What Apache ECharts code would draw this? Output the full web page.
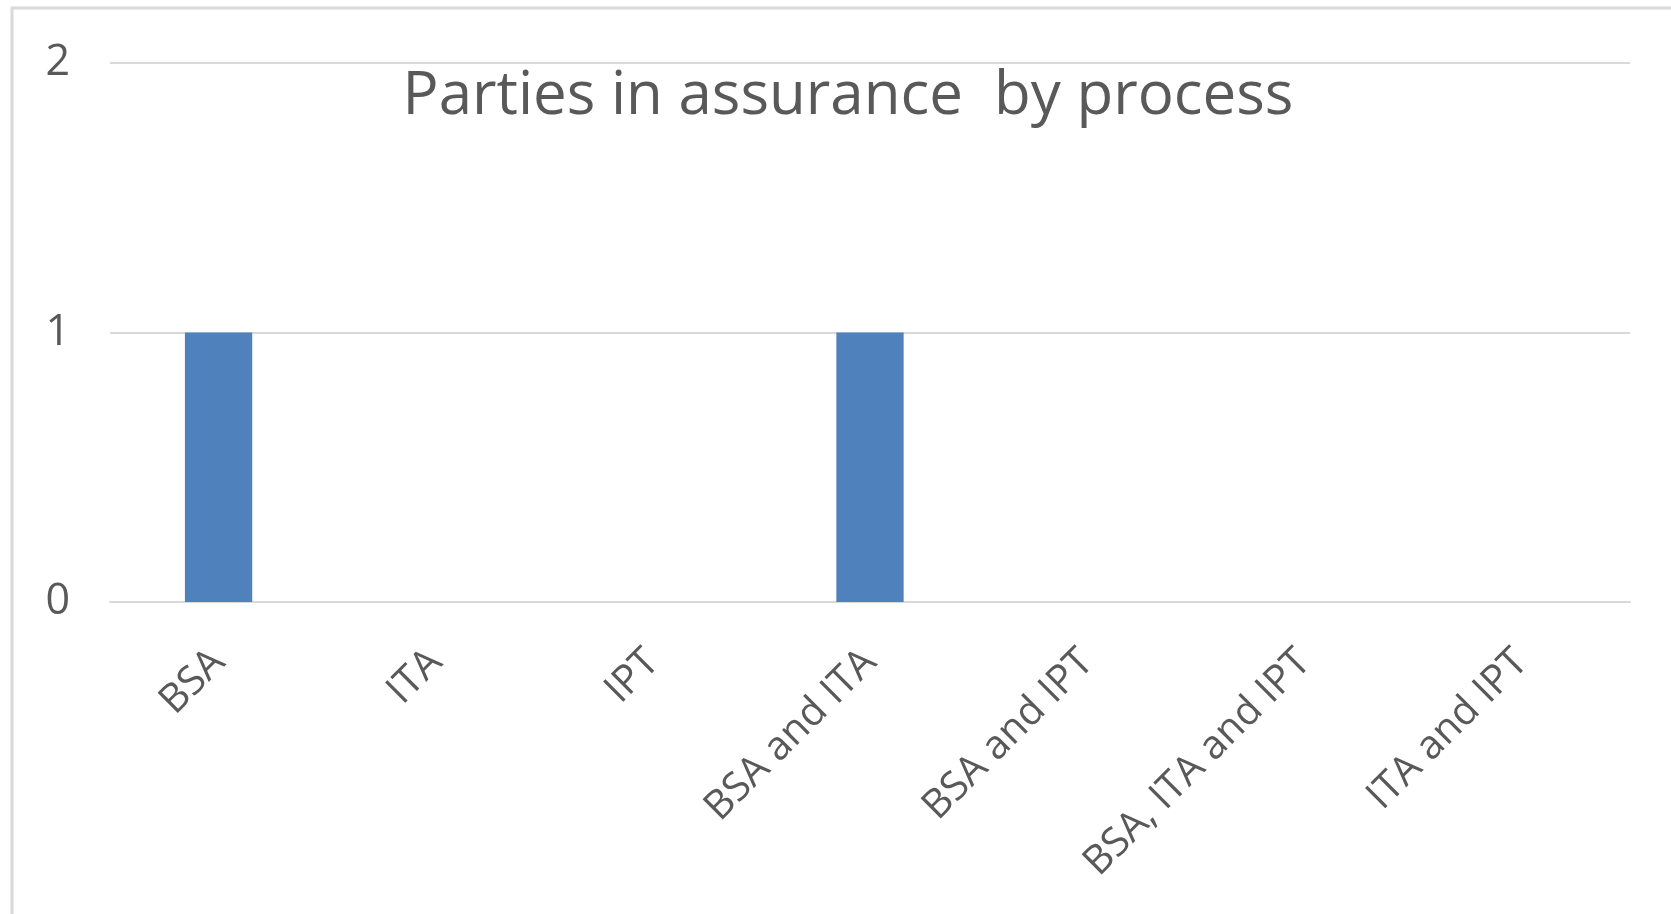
<!DOCTYPE html>
<html>
<head>
<meta charset="utf-8">
<script src="https://cdn.jsdelivr.net/npm/echarts@6/dist/echarts.min.js"></script>
<style>
html,body{margin:0;padding:0;background:#fff;}
#chart{width:1671px;height:914px;}
</style>
</head>
<body>
<div id="chart"></div>
<script>
const categories = ['BSA', 'ITA', 'IPT', 'BSA and ITA', 'BSA and IPT', 'BSA, ITA and IPT', 'ITA and IPT'];
const counts = [1, 0, 0, 1, 0, 0, 0];
const titleText = 'Parties in assurance  by process';

const chart = echarts.init(document.getElementById('chart'));
chart.setOption({
  backgroundColor: '#ffffff',
  animation: false,
  graphic: [{
    type: 'rect',
    shape: { x: 12, y: 8, width: 3000, height: 3000 },
    style: { fill: 'none', stroke: '#d9d9d9', lineWidth: 3 },
    silent: true
  }],
  title: {
    text: titleText,
    left: 843,
    top: 62,
    textAlign: 'center',
    textStyle: { fontFamily: 'Open Sans', fontSize: 60, fontWeight: 'normal', color: '#595959' }
  },
  grid: { left: 110, right: 41, top: 63, bottom: 312, containLabel: false },
  xAxis: {
    type: 'category',
    data: categories,
    axisLine: { lineStyle: { color: '#d9d9d9', width: 2 } },
    axisTick: { show: false },
    axisLabel: { rotate: 45, margin: 54, interval: 0, fontFamily: 'Open Sans', fontSize: 40, color: '#595959' }
  },
  yAxis: {
    type: 'value',
    min: 0, max: 2, interval: 1,
    axisLine: { show: false },
    axisTick: { show: false },
    splitLine: { lineStyle: { color: '#d9d9d9', width: 2 } },
    axisLabel: { margin: 40, padding: [6, 0, 0, 0], fontFamily: 'Open Sans', fontSize: 43, color: '#595959' }
  },
  series: [{
    type: 'bar',
    data: counts,
    barWidth: '31%',
    itemStyle: { color: '#4f81bd' }
  }]
});
</script>
</body>
</html>
